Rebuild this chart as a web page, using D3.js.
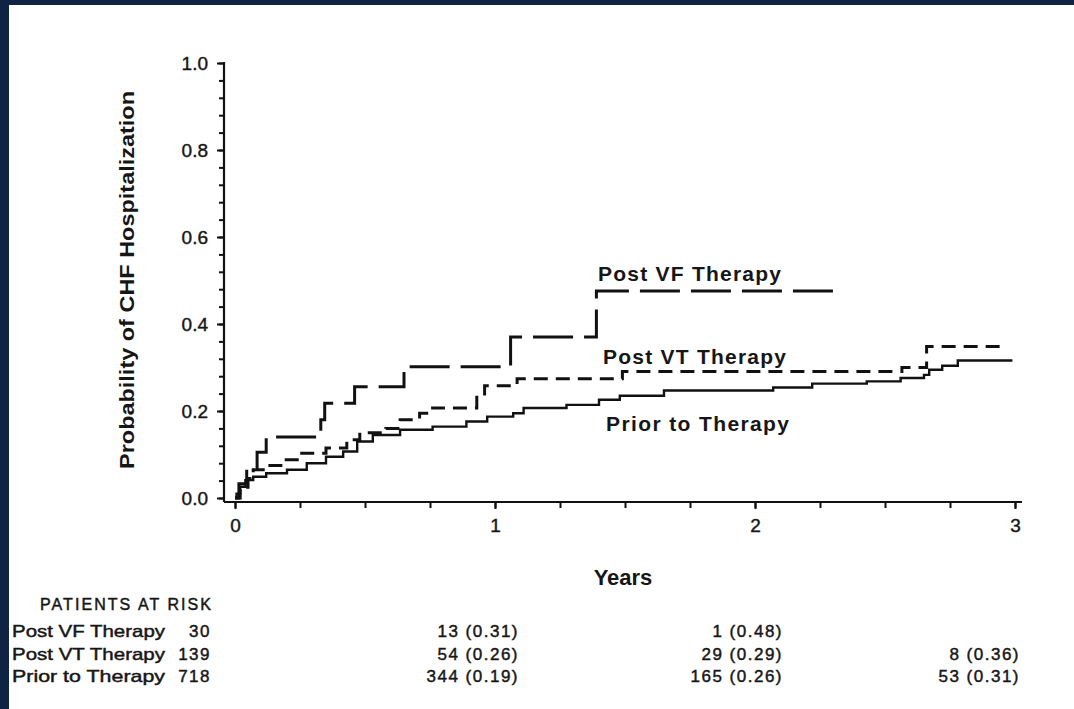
<html>
<head>
<meta charset="UTF-8"/>
<script src="https://cdn.jsdelivr.net/npm/d3@7"></script>
<style>
  body { margin: 0; background: #0f2342; }
  text { font-family: "Liberation Sans", Arial, sans-serif; fill: #161616; }
</style>
</head>
<body>
<script>
// step curves (years, cumulative probability)
const vfTime  = [0, 0.015, 0.045, 0.085, 0.12, 0.33, 0.345, 0.46, 0.65, 1.06, 1.39, 2.34];
const vfProb  = [0, 0.033, 0.069, 0.105, 0.14, 0.18, 0.218, 0.256, 0.302, 0.37, 0.476, 0.476];

const vtTime  = [0, 0.02, 0.05, 0.07, 0.12, 0.185, 0.25, 0.35, 0.43, 0.48, 0.58, 0.635, 0.71, 0.76, 0.93, 0.96, 1.085, 1.49, 2.565, 2.66, 2.97];
const vtProb  = [0, 0.025, 0.045, 0.065, 0.075, 0.088, 0.103, 0.115, 0.134, 0.15, 0.16, 0.18, 0.195, 0.207, 0.235, 0.258, 0.274, 0.291, 0.30, 0.348, 0.348];

const priorTime = [0, 0.006, 0.02, 0.04, 0.07, 0.12, 0.2, 0.276, 0.35, 0.416, 0.47, 0.53, 0.635, 0.76, 0.89, 0.97, 1.07, 1.11, 1.275, 1.4, 1.48, 1.65, 2.07, 2.22, 2.43, 2.56, 2.65, 2.67, 2.72, 2.78, 2.99];
const priorProb = [0, 0.01, 0.026, 0.041, 0.049, 0.057, 0.065, 0.08, 0.095, 0.107, 0.13, 0.145, 0.157, 0.164, 0.176, 0.187, 0.195, 0.207, 0.214, 0.226, 0.235, 0.247, 0.254, 0.263, 0.268, 0.276, 0.283, 0.295, 0.304, 0.316, 0.316];

const seriesNames = ["Post VF Therapy", "Post VT Therapy", "Prior to Therapy"];
const yearTicks = [0, 1, 2, 3];
const probTicks = [0, 0.2, 0.4, 0.6, 0.8, 1.0];

// patients at risk table
const riskStart = ["30", "139", "718"];
const riskYear1 = ["13 (0.31)", "54 (0.26)", "344 (0.19)"];
const riskYear2 = ["1 (0.48)", "29 (0.29)", "165 (0.26)"];
const riskYear3 = ["", "8 (0.36)", "53 (0.31)"];

var width = 1074, height = 709;

var svg = d3.select("body").append("svg")
  .attr("width", width).attr("height", height);

svg.append("rect").attr("width", width).attr("height", height).attr("fill", "#0f2342");
svg.append("rect").attr("x", 9).attr("y", 5).attr("width", width - 9).attr("height", height - 5).attr("fill", "#fff");

var x = d3.scaleLinear().domain([0, 3]).range([235, 1015]);
var y = d3.scaleLinear().domain([0, 1]).range([498, 63]);

var axisX = 224, axisY = 502;

// axes lines
svg.append("line").attr("x1", axisX).attr("x2", axisX).attr("y1", y(1) - 1).attr("y2", axisY)
  .attr("stroke", "#111").attr("stroke-width", 2.2);
svg.append("line").attr("x1", axisX).attr("x2", 1022).attr("y1", axisY).attr("y2", axisY)
  .attr("stroke", "#111").attr("stroke-width", 2.2);

// y axis
var yAxis = svg.append("g").attr("transform", "translate(" + axisX + ",0)")
  .call(d3.axisLeft(y).tickValues(probTicks).tickFormat(d3.format(".1f")).tickSize(7).tickSizeOuter(0).tickPadding(9));
var yMinor = svg.append("g").attr("transform", "translate(" + axisX + ",0)")
  .call(d3.axisLeft(y).tickValues(d3.range(0, 1.0001, 0.04)).tickFormat("").tickSize(5).tickSizeOuter(0));

// x axis
var xAxis = svg.append("g").attr("transform", "translate(0," + axisY + ")")
  .call(d3.axisBottom(x).tickValues(yearTicks).tickFormat(d3.format("d")).tickSize(7).tickSizeOuter(0).tickPadding(10));
var xMinor = svg.append("g").attr("transform", "translate(0," + axisY + ")")
  .call(d3.axisBottom(x).tickValues(d3.range(0, 3.001, 0.25)).tickFormat("").tickSize(6).tickSizeOuter(0));

[yAxis, yMinor, xAxis, xMinor].forEach(g => {
  g.select(".domain").remove();
  g.selectAll(".tick line").attr("stroke", "#111").attr("stroke-width", 2);
  g.selectAll(".tick text").attr("font-size", 19).attr("fill", "#161616")
    .attr("stroke", "#161616").attr("stroke-width", 0.4)
    .attr("font-family", "'Liberation Sans', Arial, sans-serif");
});

// axis titles
svg.append("text")
  .attr("transform", "translate(134,280) rotate(-90)")
  .attr("text-anchor", "middle")
  .attr("font-size", 21).attr("font-weight", "bold")
  .attr("textLength", 378).attr("lengthAdjust", "spacingAndGlyphs")
  .text("Probability of CHF Hospitalization");

svg.append("text")
  .attr("x", 623).attr("y", 585)
  .attr("text-anchor", "middle")
  .attr("font-size", 22).attr("font-weight", "bold")
  .text("Years");

// curves
var line = d3.line().x(d => x(d[0])).y(d => y(d[1])).curve(d3.curveStepAfter);

var curves = [
  {t: vfTime, p: vfProb, dash: "40,11", w: 3},
  {t: vtTime, p: vtProb, dash: "14,8", w: 3},
  {t: priorTime, p: priorProb, dash: null, w: 2.4}
];

svg.selectAll("path.curve").data(curves).enter().append("path")
  .attr("class", "curve")
  .attr("fill", "none")
  .attr("stroke", "#111")
  .attr("stroke-width", d => d.w)
  .attr("stroke-dasharray", d => d.dash)
  .attr("d", d => line(d.t.map((v, i) => [v, d.p[i]])));

// curve labels
var labelPos = [[598, 281], [603, 364], [606, 431]];
svg.selectAll("text.clabel").data(seriesNames).enter().append("text")
  .attr("class", "clabel")
  .attr("x", (d, i) => labelPos[i][0]).attr("y", (d, i) => labelPos[i][1])
  .attr("font-size", 21).attr("font-weight", "bold")
  .attr("textLength", 183).attr("lengthAdjust", "spacing")
  .text(d => d);

// at-risk table
var table = svg.append("g").attr("font-size", 17)
  .attr("stroke", "#161616").attr("stroke-width", 0.45);
table.append("text").attr("x", 40).attr("y", 610)
  .attr("font-size", 16).attr("textLength", 171).attr("lengthAdjust", "spacing")
  .text("PATIENTS AT RISK");

var rowY = [637, 660, 682];
var cols = [
  {vals: riskStart, x: 211},
  {vals: riskYear1, x: 519},
  {vals: riskYear2, x: 783},
  {vals: riskYear3, x: 1020}
];

seriesNames.forEach((name, i) => {
  table.append("text").attr("x", 12).attr("y", rowY[i])
    .attr("textLength", 153).attr("lengthAdjust", "spacingAndGlyphs")
    .text(name);
  cols.forEach(c => {
    if (!c.vals[i]) return;
    table.append("text").attr("x", c.x).attr("y", rowY[i])
      .attr("text-anchor", "end").attr("letter-spacing", "1.5px")
      .text(c.vals[i]);
  });
});
</script>
</body>
</html>
